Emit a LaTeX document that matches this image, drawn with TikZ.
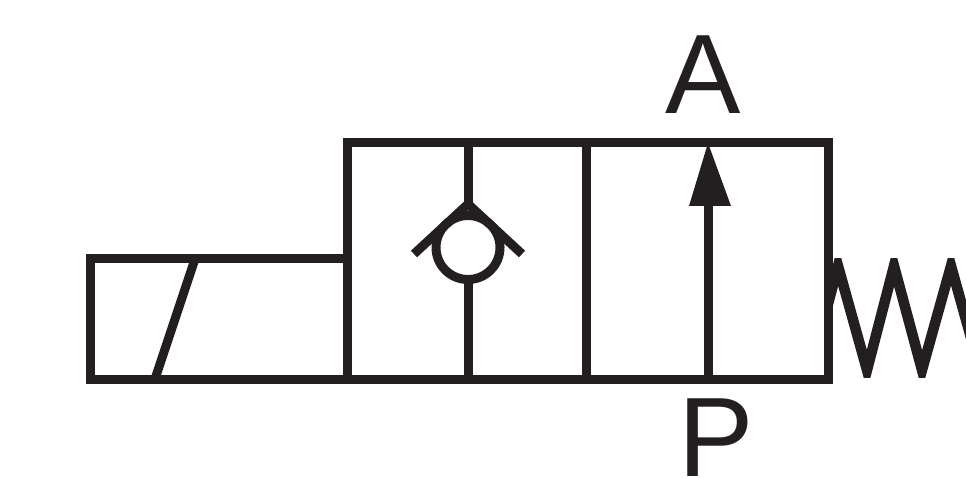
\documentclass[tikz,border=0pt]{standalone}
\usepackage{fontspec}
\setmainfont{Liberation Sans}
\definecolor{ink}{HTML}{231F20}
\tikzset{
  sym/.style={draw=ink,line width=9pt,line cap=butt,line join=miter},
  port/.style={text=ink,inner sep=0pt,anchor=base,font=\fontsize{113}{113}\selectfont},
}
\begin{document}
\begin{tikzpicture}[x=1pt,y=-1pt]
\useasboundingbox (0,0) rectangle (966,478);
% spring
\begin{scope}
\clip (828,259) rectangle (966,377);
\draw[sym,line width=10.5pt,miter limit=10] (828,304) -- (838,266) -- (867,370) -- (894,266) -- (922,370) -- (951,266) -- (980,370);
\end{scope}
% solenoid
\draw[sym] (347,259) -- (90,259) -- (90,379) -- (347,379);
\draw[sym] (155,379) -- (195,259);
% valve body
\draw[sym] (347,143) rectangle (828,379);
\draw[sym] (586,143) -- (586,379);
% check valve
\draw[sym] (468,143) -- (468,204);
\draw[sym] (468,279) -- (468,379);
\draw[sym] (468,247.5) circle[radius=32];
\draw[sym] (414,254) -- (468,204) -- (522,254);
% flow arrow
\draw[sym] (708,200) -- (708,379);
\fill[ink] (708,143) -- (731,206) -- (689,206) -- cycle;
% ports
\node[port] (A) at (703,114) {A};
\node[port] (P) at (716.5,476.5) {P};
\end{tikzpicture}
\end{document}
